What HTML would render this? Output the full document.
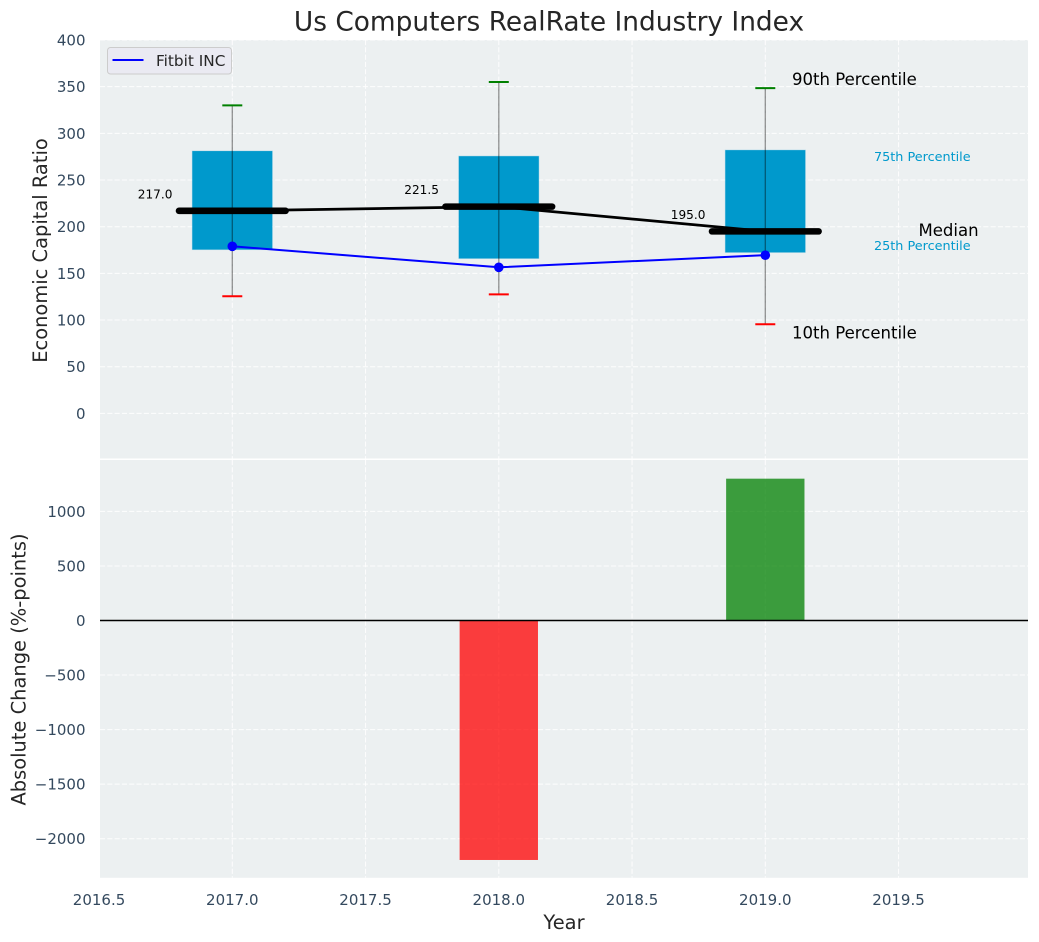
<!DOCTYPE html>
<html lang="en">
<head>
<meta charset="utf-8">
<title>Us Computers RealRate Industry Index</title>
<style>
  html, body { margin: 0; padding: 0; background: #fff; }
  body { width: 1039px; height: 942px; overflow: hidden; }
  svg { display: block; font-family: "DejaVu Sans", "Liberation Sans", sans-serif; }
</style>
</head>
<body>
<svg id="chart" xmlns="http://www.w3.org/2000/svg" width="1039" height="942" viewBox="0 0 1039 942">
  <rect x="0" y="0" width="1039" height="942" fill="#ffffff"/>
  <rect x="100" y="40" width="928" height="418.5" fill="#ecf0f1"/>
  <rect x="100" y="460" width="928" height="417.8" fill="#ecf0f1"/>
  <g id="grid"></g>
  <g id="bars"></g>
  <g id="boxes"></g>
  <g id="lines"></g>
  <g id="labels"></g>
  <g id="ticks"></g>
  <text x="549" y="30.5" text-anchor="middle" font-size="26.4" fill="#262626">Us Computers RealRate Industry Index</text>
  <text transform="translate(47,250.5) rotate(-90)" text-anchor="middle" font-size="19.45" fill="#262626">Economic Capital Ratio</text>
  <text transform="translate(25.5,669.5) rotate(-90)" text-anchor="middle" font-size="19.45" fill="#262626">Absolute Change (%-points)</text>
  <text x="564" y="929" text-anchor="middle" font-size="19.45" fill="#262626">Year</text>
  <g>
    <rect x="107.5" y="47.5" width="124" height="26.5" rx="3" fill="#eaeaf2" stroke="#cccccc" stroke-width="1"/>
    <line x1="112.5" y1="60" x2="143.5" y2="60" stroke="#0000ff" stroke-width="2"/>
    <text x="156" y="66" font-size="15.3" fill="#262626">Fitbit INC</text>
  </g>
</svg>
<script>
const years = [2017, 2018, 2019];
const p90 = [330, 355, 348.5];
const p75 = [281, 275.5, 282];
const medians = [217.0, 221.5, 195.0];
const p25 = [175.5, 166, 172.5];
const p10 = [125.5, 127.5, 95.5];
const fitbit = [179, 156.5, 169.5];
const changes = [0, -2195, 1300];
const xTicks = [2016.5, 2017.0, 2017.5, 2018.0, 2018.5, 2019.0, 2019.5];
const yTicksTop = [0, 50, 100, 150, 200, 250, 300, 350, 400];
const yTicksBottom = [-2000, -1500, -1000, -500, 0, 500, 1000];

const NS = 'http://www.w3.org/2000/svg';
const xs = function (v) { return 232.3 + (v - 2017) * 266.5; };
const yTop = function (v) { return 413.4 - v * 0.9335; };
const yBot = function (v) { return 620.5 - v * 0.1091; };
const boxHalf = 0.15;
const medianHalf = 0.2;
const capHalf = 10;

function make(parent, tag, attrs, text) {
  const el = document.createElementNS(NS, tag);
  Object.keys(attrs).forEach(function (k) { el.setAttribute(k, attrs[k]); });
  if (text !== undefined) el.textContent = text;
  document.getElementById(parent).appendChild(el);
  return el;
}
function gridAttrs(x1, y1, x2, y2) {
  return { x1: x1, y1: y1, x2: x2, y2: y2, stroke: '#ffffff', 'stroke-width': 1, 'stroke-dasharray': '5.1 2.2', opacity: 0.9 };
}
function fmtY(v) { return String(v).replace('-', '\u2212'); }

xTicks.forEach(function (t) {
  const a = make('grid', 'line', gridAttrs(xs(t), 40, xs(t), 458.5));
  
  
  const b = make('grid', 'line', gridAttrs(xs(t), 460, xs(t), 877.8));
  
  
  const lbl = make('ticks', 'text', { x: xs(t), y: 905, 'text-anchor': 'middle', 'font-size': 15, fill: '#34495e' }, t.toFixed(1));
  
  
});
yTicksTop.forEach(function (t) {
  const a = make('grid', 'line', gridAttrs(100, yTop(t), 1028, yTop(t)));
  
  
  const lbl = make('ticks', 'text', { x: 85.5, y: yTop(t) + 5.5, 'text-anchor': 'end', 'font-size': 15, fill: '#34495e' }, fmtY(t));
  
  
});
yTicksBottom.forEach(function (t) {
  const a = make('grid', 'line', gridAttrs(100, yBot(t), 1028, yBot(t)));
  
  
  const lbl = make('ticks', 'text', { x: 85.5, y: yBot(t) + 5.5, 'text-anchor': 'end', 'font-size': 15, fill: '#34495e' }, fmtY(t));
  
  
});

years.forEach(function (yr, i) {
  const v = changes[i];
  if (v === 0) return;
  const bar = make('bars', 'rect', {
    x: xs(yr - 0.147), width: xs(yr + 0.147) - xs(yr - 0.147),
    y: Math.min(yBot(0), yBot(v)), height: Math.abs(yBot(v) - yBot(0)),
    fill: v < 0 ? '#ff0000' : '#008000', 'fill-opacity': 0.75
  });
  
  
});
const zero = make('bars', 'line', { x1: 100, y1: yBot(0), x2: 1028, y2: yBot(0), stroke: '#000000', 'stroke-width': 1.4 });



years.forEach(function (yr, i) {
  const box = make('boxes', 'rect', {
    x: xs(yr - boxHalf), width: xs(yr + boxHalf) - xs(yr - boxHalf),
    y: yTop(p75[i]), height: yTop(p25[i]) - yTop(p75[i]),
    fill: '#0099cc', stroke: '#0099cc', 'stroke-opacity': 0.25, 'stroke-width': 1
  });
  
  
  const whisker = make('boxes', 'line', {
    x1: xs(yr), y1: yTop(p90[i]), x2: xs(yr), y2: yTop(p10[i]),
    stroke: '#000000', 'stroke-opacity': 0.42, 'stroke-width': 1.3
  });
  
  
  const capHi = make('boxes', 'line', {
    x1: xs(yr) - capHalf, y1: yTop(p90[i]), x2: xs(yr) + capHalf, y2: yTop(p90[i]),
    stroke: '#008000', 'stroke-width': 2
  });
  
  
  const capLo = make('boxes', 'line', {
    x1: xs(yr) - capHalf, y1: yTop(p10[i]), x2: xs(yr) + capHalf, y2: yTop(p10[i]),
    stroke: '#ff0000', 'stroke-width': 2
  });
  
  
});

const medianPath = make('lines', 'polyline', {
  points: years.map(function (yr, i) { return xs(yr) + ',' + yTop(medians[i]); }).join(' '),
  fill: 'none', stroke: '#000000', 'stroke-width': 2.8
});



const fitbitPath = make('lines', 'polyline', {
  points: years.map(function (yr, i) { return xs(yr) + ',' + yTop(fitbit[i]); }).join(' '),
  fill: 'none', stroke: '#0000ff', 'stroke-width': 2
});



years.forEach(function (yr, i) {
  const bar = make('lines', 'line', {
    x1: xs(yr - medianHalf), y1: yTop(medians[i]), x2: xs(yr + medianHalf), y2: yTop(medians[i]),
    stroke: '#000000', 'stroke-width': 6.6, 'stroke-linecap': 'round'
  });
  
  
  const dot = make('lines', 'circle', { cx: xs(yr), cy: yTop(fitbit[i]), r: 4.8, fill: '#0000ff' });
  
  
  const val = make('labels', 'text', {
    x: xs(yr) - 94.5, y: yTop(medians[i]) - 12.5, 'font-size': 12.1, fill: '#000000'
  }, medians[i].toFixed(1));
  
  
});

const last = years.length - 1;
const t90 = make('labels', 'text', { x: 792, y: yTop(p90[last]) - 3, 'font-size': 16.55, fill: '#000000' }, '90th Percentile');


const t10 = make('labels', 'text', { x: 792, y: yTop(p10[last]) + 14, 'font-size': 16.55, fill: '#000000' }, '10th Percentile');


const t75 = make('labels', 'text', { x: 874, y: yTop(p75[last]) + 11, 'font-size': 12.8, fill: '#0099cc' }, '75th Percentile');


const t25 = make('labels', 'text', { x: 874, y: yTop(p25[last]) - 2.4, 'font-size': 12.8, fill: '#0099cc' }, '25th Percentile');


const tMed = make('labels', 'text', { x: 918.5, y: yTop(medians[last]) + 4.6, 'font-size': 16.55, fill: '#000000' }, 'Median');


</script>
</body>
</html>
